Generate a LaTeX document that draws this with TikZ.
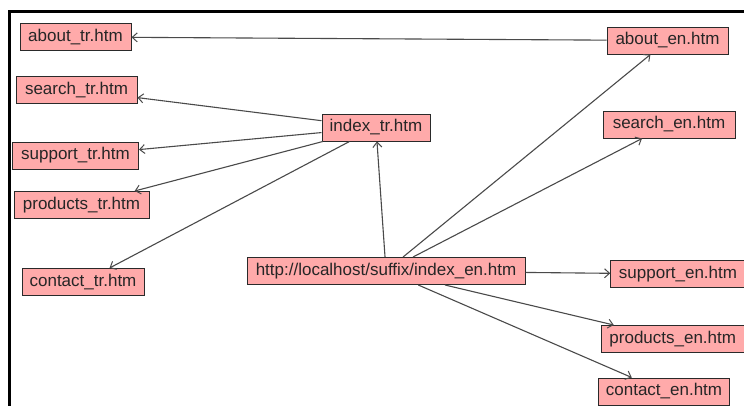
\documentclass[tikz,border=0pt]{standalone}
\usepackage{fontspec}
\setmainfont{Liberation Sans}
\usetikzlibrary{arrows.meta}
\definecolor{pagebox}{HTML}{FFAAAA}
\definecolor{edgegray}{HTML}{4A4A4A}
\definecolor{boxline}{HTML}{2A2A2A}
\definecolor{labeltext}{HTML}{262626}
\tikzset{
  page/.style={draw=boxline, line width=1pt, fill=pagebox, inner sep=0pt,
    minimum height=27pt, text=labeltext,
    font=\fontsize{17}{20}\selectfont},
  link/.style={draw=edgegray, line width=1.1pt,
    -{Straight Barb[length=5pt,width=9pt,line width=1pt]}},
}
\begin{document}
\begin{tikzpicture}[x=1pt,y=-1pt]
  \useasboundingbox (0,0) rectangle (744,405);
  \clip (0,0) rectangle (744,405);
  \fill[white] (0,0) rectangle (744,405);
  % window frame
  \draw[line width=3pt, line cap=rect] (9.5,410) -- (9.5,11) -- (750,11);

  % Turkish pages
  \node[page, minimum width=111pt] (abouttr)    at (75.5,37)  {about\_tr.htm};
  \node[page, minimum width=121pt] (searchtr)   at (76.5,90)  {search\_tr.htm};
  \node[page, minimum width=126pt] (supporttr)  at (75.5,155.5) {support\_tr.htm};
  \node[page, minimum width=135pt] (productstr) at (81.5,205) {products\_tr.htm};
  \node[page, minimum width=122pt] (contacttr)  at (83,282)   {contact\_tr.htm};
  \node[page, minimum width=108pt] (indextr)    at (376,127.5) {index\_tr.htm};

  % root page
  \node[page, minimum width=278pt] (root) at (386,271) {http://localhost/suffix/index\_en.htm};

  % English pages
  \node[page, minimum width=121pt]   (abouten)    at (667.5,40.5) {about\_en.htm};
  \node[page, minimum width=132pt]   (searchen)   at (669,124.5)  {search\_en.htm};
  \node[page, minimum width=134.5pt] (supporten)  at (678,274)    {support\_en.htm};
  \node[page, minimum width=143.5pt] (productsen) at (672.75,339) {products\_en.htm};
  \node[page, minimum width=131pt]   (contacten)  at (664,391.5)  {contact\_en.htm};

  % links
  \draw[link] (abouten) -- (abouttr);
  \draw[link] (indextr) -- (searchtr);
  \draw[link] (indextr) -- (supporttr);
  \draw[link] (indextr) -- (productstr);
  \draw[link] (indextr) -- (contacttr);
  \draw[link] (root) -- (indextr);
  \draw[link] (root) -- (abouten);
  \draw[link] (root) -- (searchen);
  \draw[link] (root) -- (supporten);
  \draw[link] (root) -- (productsen);
  \draw[link] (root) -- (contacten);
\end{tikzpicture}
\end{document}
